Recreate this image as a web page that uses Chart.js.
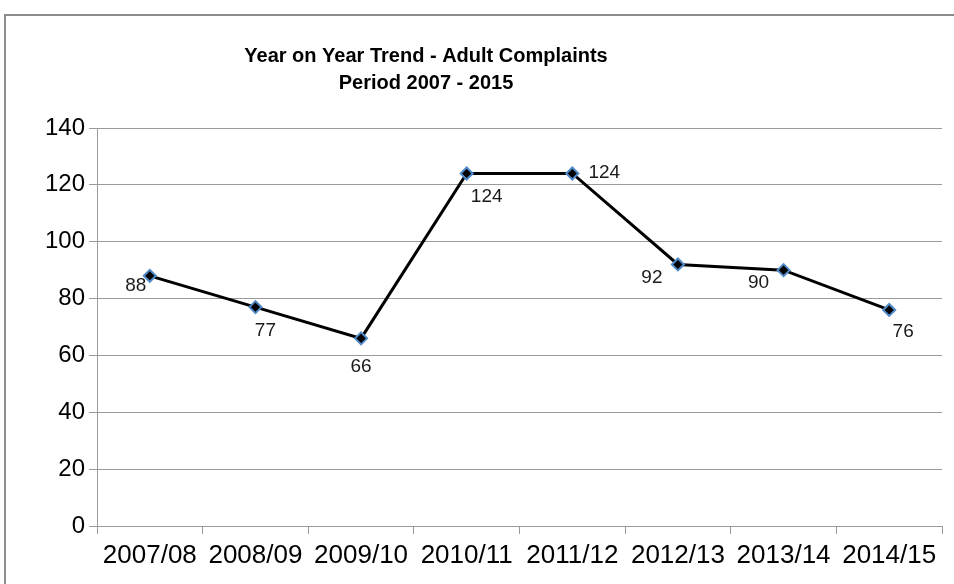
<!DOCTYPE html>
<html><head><meta charset="utf-8">
<script src="https://cdn.jsdelivr.net/npm/chart.js@4/dist/chart.umd.min.js"></script>
<style>
html,body{margin:0;padding:0;background:#fff;overflow:hidden}
#wrap{position:absolute;left:0;top:0;width:954px;height:584px}
#frame{position:absolute;left:4px;top:14px;width:1000px;height:1000px;border-left:2px solid #8c8c8c;border-top:2px solid #8c8c8c;box-sizing:border-box}
canvas{position:absolute;left:0;top:0}
</style></head><body>
<div id="wrap"><div id="frame"></div><canvas id="c" width="954" height="584"></canvas></div>
<script>
const categories = ["2007/08","2008/09","2009/10","2010/11","2011/12","2012/13","2013/14","2014/15"];
const complaints = [88,77,66,124,124,92,90,76];
const yTicks = [0,20,40,60,80,100,120,140];
const titleLines = ["Year on Year Trend - Adult Complaints","Period 2007 - 2015"];

// label placement per point (dx, dy from point)
const labelPlacement = [
  {dx:-14,dy:10},
  {dx:10,dy:24},
  {dx:0,dy:28},
  {dx:20,dy:23},
  {dx:32,dy:-1},
  {dx:-26,dy:13},
  {dx:-25,dy:13},
  {dx:14,dy:22}
];

const FONT = '"Liberation Sans", Arial, sans-serif';
const labelsPlugin = {
  id:'pointLabels',
  afterDatasetsDraw(chart){
    const ctx = chart.ctx;
    const meta = chart.getDatasetMeta(0);
    ctx.save();
    ctx.font = '19px ' + FONT;
    ctx.fillStyle = '#1a1a1a';
    ctx.textBaseline = 'middle';
    ctx.textAlign = 'center';
    meta.data.forEach((pt,i)=>{
      const p = labelPlacement[i];
      ctx.fillText(String(complaints[i]), pt.x + p.dx, pt.y + p.dy);
    });
    ctx.restore();
  }
};
const titlePlugin = {
  id:'customTitle',
  afterDraw(chart){
    const ctx = chart.ctx;
    ctx.save();
    ctx.font = 'bold 20px ' + FONT;
    ctx.fillStyle = '#000';
    ctx.textAlign = 'center';
    ctx.textBaseline = 'middle';
    titleLines.forEach((t,i)=>ctx.fillText(t, 426, 56 + i*27));
    ctx.restore();
  }
};

new Chart(document.getElementById('c'), {
  type:'line',
  data:{
    labels:categories,
    datasets:[{
      data:complaints,
      borderColor:'#000',
      borderWidth:3,
      tension:0,
      pointStyle:'rectRot',
      pointRadius:6,
      pointHoverRadius:6,
      pointBackgroundColor:'#000',
      pointBorderColor:'#5089c8',
      pointBorderWidth:2
    }]
  },
  options:{
    responsive:false,
    animation:false,
    devicePixelRatio:1,
    layout:{padding:{top:128,right:12,left:0,bottom:0}},
    plugins:{legend:{display:false},title:{display:false},tooltip:{enabled:false}},
    scales:{
      x:{
        offset:true,
        grid:{offset:true,drawOnChartArea:false,color:'#9a9a9a',tickLength:8},
        border:{color:'#9a9a9a'},
        ticks:{color:'#000',font:{family:FONT,size:26},padding:6,maxRotation:0,autoSkip:false},
        afterFit(s){s.height=58;}
      },
      y:{
        min:0,max:140,
        afterBuildTicks(s){s.ticks = yTicks.map(v=>({value:v}));},
        grid:{color:'#9a9a9a',tickLength:8},
        border:{color:'#9a9a9a'},
        ticks:{color:'#000',font:{family:FONT,size:24},padding:4},
        afterFit(s){s.width=97;}
      }
    }
  },
  plugins:[labelsPlugin,titlePlugin]
});
</script>
</body></html>
